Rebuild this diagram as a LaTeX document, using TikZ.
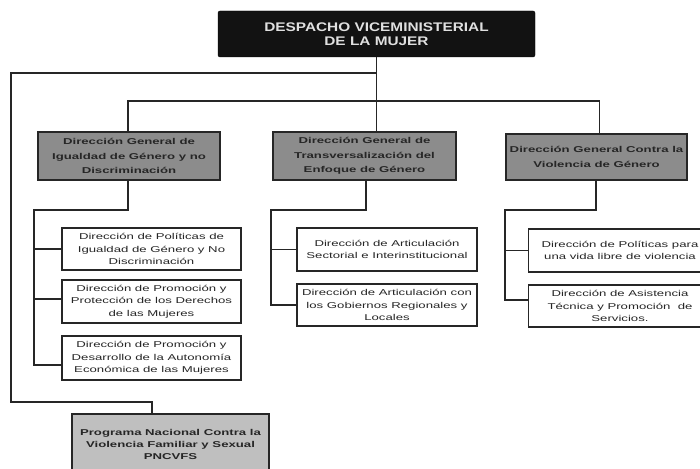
\documentclass[tikz,border=0pt]{standalone}
\usepackage{fontspec}
\setmainfont{Liberation Sans}
\newfontfamily\bxfont[FakeStretch=1.55]{Liberation Sans}
\newfontfamily\tpfont[FakeStretch=1.23]{Liberation Sans}
\begin{document}
\begin{tikzpicture}[x=1pt,y=-1pt,
  conn/.style={draw=black!85, line width=1.2pt},
  box/.style={draw=black!85, line width=1.3pt, fill=white, inner sep=0pt, align=center,
    font=\bxfont\fontsize{8.5}{12.5}\selectfont, text=black!85},
  gbox/.style={box, fill=black!45, font=\bxfont\bfseries\fontsize{8.5}{14.5}\selectfont},
  pbox/.style={box, fill=black!25, font=\bxfont\bfseries\fontsize{8.5}{12}\selectfont},
  topbox/.style={draw=black, fill=black!93, rounded corners=2pt, inner sep=0pt, align=center,
    text=black!12, font=\tpfont\bfseries\fontsize{12.5}{14}\selectfont}]
\useasboundingbox (0,0) rectangle (700,468);
\clip (0,0) rectangle (700,468);
\fill[white] (0,0) rectangle (700,468);

% top
\node[topbox, minimum width=317pt, minimum height=46pt] (top) at (376.5,34) {DESPACHO VICEMINISTERIAL\\DE LA MUJER};

% general directions
\node[gbox, minimum width=182pt, minimum height=48pt] (g1) at (129,156) {Dirección General de\\Igualdad de Género y no\\Discriminación};
\node[gbox, minimum width=183pt, minimum height=48pt] (g2) at (364.5,156) {Dirección General de\\Transversalización del\\Enfoque de Género};
\node[gbox, minimum width=181pt, minimum height=46pt] (g3) at (596.5,157) {Dirección General Contra la\\Violencia de Género};

% sub-boxes left
\node[box, minimum width=179pt, minimum height=42pt] (s11) at (151.5,249) {Dirección de Políticas de\\Igualdad de Género y No\\Discriminación};
\node[box, minimum width=179pt, minimum height=43pt] (s12) at (151.5,301.5) {Dirección de Promoción y\\Protección de los Derechos\\de las Mujeres};
\node[box, minimum width=179pt, minimum height=44pt] (s13) at (151.5,358) {Dirección de Promoción y\\Desarrollo de la Autonomía\\Económica de las Mujeres};

% sub-boxes middle
\node[box, minimum width=180pt, minimum height=43pt] (s21) at (387,249.5) {Dirección de Articulación\\Sectorial e Interinstitucional};
\node[box, minimum width=180pt, minimum height=42pt] (s22) at (387,305) {Dirección de Articulación con\\los Gobiernos Regionales y\\Locales};

% sub-boxes right
\node[box, minimum width=183pt, minimum height=43pt] (s31) at (620,250.5) {Dirección de Políticas para\\una vida libre de violencia};
\node[box, minimum width=183pt, minimum height=42pt] (s32) at (620,306) {Dirección de Asistencia\\Técnica y Promoción\ \ de\\Servicios.};

% programme
\node[pbox, minimum width=197pt, minimum height=61pt] (p) at (170.5,444.5) {Programa Nacional Contra la\\Violencia Familiar y Sexual\\PNCVFS};

% coordinates
\coordinate (j1) at (376.5,73);
\coordinate (lt) at (11,402);
\coordinate (h2) at (376.5,101);
\coordinate (e1) at (34,210);
\coordinate (e2) at (271,210);
\coordinate (e3) at (505,210);

% connectors top
\draw[conn] (top.south) -- (top.south |- g2.north);
\draw[conn] (j1) -| (lt) -| ([xshift=-18.5pt]p.north);
\draw[conn] ([xshift=-1pt]g1.north) |- (h2) -| ([xshift=3pt]g3.north);

% left branch
\draw[conn] ([xshift=-1pt]g1.south) |- (e1) |- ([yshift=-7pt]s13.west);
\draw[conn] (e1 |- s11.west) -- (s11.west);
\draw[conn] (e1 |- s12.west) ++(0,-2.5) -- ([yshift=2.5pt]s12.west);

% middle branch
\draw[conn] ([xshift=1.5pt]g2.south) |- (e2) |- (s22.west);
\draw[conn] (e2 |- s21.west) -- (s21.west);

% right branch
\draw[conn] ([xshift=-0.5pt]g3.south) |- (e3) |- ([yshift=6pt]s32.west);
\draw[conn] (e3 |- s31.west) -- (s31.west);
\end{tikzpicture}
\end{document}
